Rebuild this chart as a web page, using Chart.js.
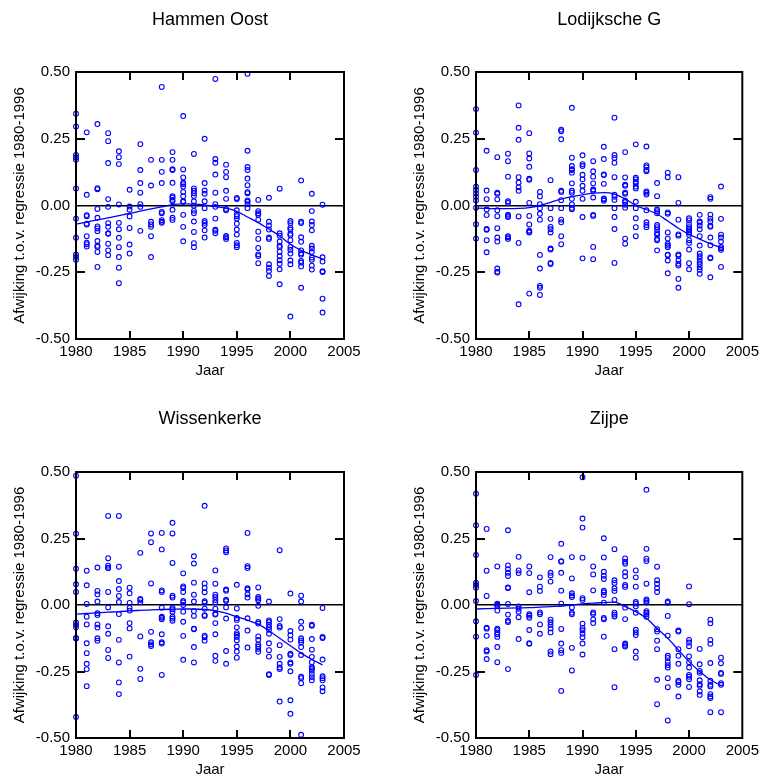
<!DOCTYPE html>
<html>
<head>
<meta charset="utf-8">
<script src="https://cdn.jsdelivr.net/npm/chart.js@4.4.1/dist/chart.umd.min.js"></script>
<style>
  body { margin: 0; background: #fff; }
  #wrap { position: relative; width: 763px; height: 780px; overflow: hidden; }
  .panel { position: absolute; }
</style>
</head>
<body>
<div id="wrap">
  <div class="panel" style="left:0;top:0;width:400px;height:390px"><canvas id="c1"></canvas></div>
  <div class="panel" style="left:400px;top:0;width:363px;height:390px"><canvas id="c2"></canvas></div>
  <div class="panel" style="left:0;top:390px;width:400px;height:390px"><canvas id="c3"></canvas></div>
  <div class="panel" style="left:400px;top:390px;width:363px;height:390px"><canvas id="c4"></canvas></div>
</div>
<script>
// afwijkingen per jaar (elke rij = één jaar, 1980 t/m 2003)
const years = [1980, 1981, 1982, 1983, 1984, 1985, 1986, 1987, 1988, 1989, 1990, 1991,
               1992, 1993, 1994, 1995, 1996, 1997, 1998, 1999, 2000, 2001, 2002, 2003];

const hammenOost = [
  [0.344, 0.296, 0.189, 0.18, 0.171, 0.064, -0.049, -0.121, -0.183, -0.193, -0.203],
  [0.274, 0.04, -0.036, -0.04, -0.068, -0.071, -0.115, -0.139, -0.145, -0.154],
  [0.305, 0.065, 0.061, -0.013, -0.046, -0.078, -0.086, -0.096, -0.133, -0.151, -0.155, -0.174, -0.23],
  [0.271, 0.241, 0.159, 0.024, -0.005, -0.066, -0.08, -0.104, -0.106, -0.143, -0.168, -0.186],
  [0.203, 0.181, 0.155, 0.004, -0.065, -0.089, -0.121, -0.156, -0.193, -0.233, -0.291],
  [0.059, -0.004, -0.016, -0.041, -0.084, -0.146, -0.18],
  [0.23, 0.133, 0.084, 0.048, 0.005, -0.005, -0.095],
  [0.171, 0.075, -0.061, -0.071, -0.08, -0.115, -0.193],
  [0.444, 0.171, 0.126, 0.084, -0.024, -0.029, -0.055, -0.061, -0.065],
  [0.2, 0.171, 0.136, 0.133, 0.085, 0.035, 0.03, 0.021, 0.016, -0.016, -0.046, -0.054],
  [0.335, 0.135, 0.105, 0.085, 0.08, 0.071, 0.051, 0.035, 0.016, 0.014, -0.035, -0.08, -0.134],
  [0.193, 0.064, 0.055, 0.046, 0.036, 0.016, -0.001, -0.02, -0.029, -0.06, -0.099, -0.141, -0.156],
  [0.25, 0.084, 0.056, 0.044, 0.016, -0.01, -0.058, -0.065, -0.073, -0.093, -0.12],
  [0.474, 0.174, 0.16, 0.116, 0.048, 0.005, -0.005, -0.049, -0.091, -0.095, -0.104],
  [0.153, 0.126, 0.106, 0.055, 0.025, -0.013, -0.018, -0.114, -0.119, -0.125],
  [0.028, 0.024, -0.018, -0.034, -0.04, -0.049, -0.068, -0.09, -0.109, -0.14, -0.149, -0.156],
  [0.493, 0.205, 0.144, 0.133, 0.101, 0.076, 0.05, 0.046, 0.019, 0.014, 0.005, -0.01],
  [0.021, -0.021, -0.029, -0.035, -0.053, -0.098, -0.125, -0.159, -0.183, -0.189, -0.216],
  [0.029, -0.061, -0.075, -0.09, -0.12, -0.125, -0.22, -0.233, -0.245, -0.264],
  [0.063, -0.104, -0.113, -0.135, -0.151, -0.156, -0.173, -0.19, -0.205, -0.218, -0.239, -0.295],
  [-0.058, -0.066, -0.083, -0.09, -0.106, -0.111, -0.13, -0.155, -0.166, -0.18, -0.206, -0.22, -0.416],
  [0.094, -0.061, -0.066, -0.119, -0.136, -0.168, -0.179, -0.184, -0.208, -0.214, -0.228, -0.308],
  [0.044, -0.021, -0.06, -0.073, -0.093, -0.151, -0.161, -0.174, -0.195, -0.203, -0.225, -0.24],
  [0.003, -0.194, -0.21, -0.246, -0.249, -0.349, -0.401]
];
const hammenOostTrend = [-0.07, -0.062, -0.054, -0.046, -0.038, -0.03, -0.021, -0.013, -0.005, 0.003, 0.006, 0.005,
  0.002, -0.004, -0.01, -0.022, -0.043, -0.064, -0.089, -0.114, -0.145, -0.168, -0.185, -0.2];

const lodijkscheG = [
  [0.361, 0.273, 0.133, 0.07, 0.058, 0.045, 0.033, 0.019, -0.008, -0.07, -0.124],
  [0.205, 0.056, 0.024, -0.015, -0.036, -0.088, -0.091, -0.13, -0.175],
  [0.181, 0.048, 0.044, 0.023, -0.018, -0.04, -0.085, -0.12, -0.135, -0.236, -0.248, -0.251],
  [0.194, 0.166, 0.108, 0.016, 0.01, -0.034, -0.039, -0.043, -0.115, -0.119, -0.125],
  [0.375, 0.291, 0.246, 0.106, 0.086, 0.068, 0.055, -0.041, -0.14, -0.37],
  [0.271, 0.195, 0.176, 0.145, 0.1, 0.096, 0.01, -0.039, -0.071, -0.094, -0.098, -0.101, -0.33],
  [0.051, 0.034, 0.005, -0.01, -0.031, -0.053, -0.185, -0.236, -0.301, -0.308, -0.335],
  [0.095, -0.01, -0.05, -0.08, -0.089, -0.101, -0.161, -0.165, -0.215, -0.219],
  [0.284, 0.278, 0.248, 0.055, 0.051, 0.02, -0.01, -0.053, -0.063, -0.115, -0.145],
  [0.366, 0.179, 0.148, 0.136, 0.133, 0.123, 0.083, 0.055, 0.048, 0.025, 0.004, -0.009, -0.014],
  [0.188, 0.155, 0.148, 0.115, 0.098, 0.074, 0.055, 0.025, -0.043, -0.198],
  [0.166, 0.128, 0.108, 0.083, 0.06, 0.055, 0.03, -0.035, -0.039, -0.155, -0.201],
  [0.22, 0.174, 0.116, 0.114, 0.081, 0.026, 0.023, 0.018],
  [0.329, 0.189, 0.178, 0.16, 0.106, 0.04, 0.033, 0.021, -0.01, -0.043, -0.088, -0.215],
  [0.2, 0.105, 0.078, 0.074, 0.048, 0.044, 0.018, 0.013, 0.003, -0.008, -0.124, -0.143],
  [0.229, 0.104, 0.098, 0.089, 0.083, 0.071, 0.064, 0.014, -0.01, -0.048, -0.081, -0.115],
  [0.221, 0.15, 0.143, 0.133, 0.128, 0.053, 0.048, 0.041, -0.018, -0.063, -0.073, -0.081],
  [0.084, 0.035, -0.015, -0.021, -0.029, -0.073, -0.081, -0.091, -0.104, -0.11, -0.125, -0.13, -0.168],
  [0.123, 0.106, -0.026, -0.031, -0.101, -0.124, -0.143, -0.15, -0.156, -0.184, -0.186, -0.206, -0.254],
  [0.106, 0.01, -0.053, -0.108, -0.113, -0.183, -0.188, -0.206, -0.218, -0.225, -0.275, -0.308],
  [-0.048, -0.056, -0.07, -0.081, -0.088, -0.093, -0.101, -0.11, -0.13, -0.14, -0.165, -0.216, -0.239],
  [-0.035, -0.06, -0.064, -0.075, -0.089, -0.115, -0.15, -0.18, -0.19, -0.2, -0.211, -0.22, -0.231, -0.241, -0.256],
  [0.031, 0.025, -0.034, -0.049, -0.059, -0.076, -0.08, -0.12, -0.149, -0.195, -0.198, -0.269],
  [0.071, -0.05, -0.109, -0.12, -0.135, -0.155, -0.16, -0.166, -0.23]
];
const lodijkscheGTrend = [-0.01, -0.011, -0.012, -0.012, -0.011, -0.008, 0.0, 0.012, 0.024, 0.033, 0.04, 0.046,
  0.048, 0.043, 0.025, 0.0, -0.015, -0.032, -0.058, -0.085, -0.108, -0.126, -0.143, -0.158];

const wissenkerke = [
  [0.486, 0.268, 0.136, 0.078, 0.049, -0.066, -0.075, -0.084, -0.124, -0.126, -0.421],
  [0.129, 0.074, 0.004, -0.044, -0.073, -0.144, -0.181, -0.221, -0.241, -0.305],
  [0.141, 0.053, 0.04, 0.013, -0.031, -0.038, -0.073, -0.085, -0.125, -0.134],
  [0.335, 0.176, 0.148, 0.14, 0.139, 0.049, -0.009, -0.08, -0.108, -0.169, -0.199],
  [0.335, 0.144, 0.09, 0.06, 0.034, 0.011, -0.034, -0.131, -0.216, -0.291, -0.335],
  [0.065, 0.044, 0.008, -0.011, -0.021, -0.068, -0.088, -0.194],
  [0.196, 0.023, 0.019, 0.01, -0.118, -0.24, -0.278],
  [0.269, 0.236, 0.081, -0.101, -0.14, -0.148, -0.154],
  [0.271, 0.209, 0.055, 0.049, -0.01, -0.044, -0.048, -0.054, -0.11, -0.14, -0.145, -0.263],
  [0.309, 0.269, 0.158, 0.035, 0.028, -0.01, -0.016, -0.025, -0.044, -0.051, -0.059],
  [0.119, 0.07, 0.064, 0.049, 0.015, 0.01, 0.0, -0.025, -0.063, -0.116, -0.206],
  [0.183, 0.156, 0.084, 0.039, 0.013, -0.023, -0.041, -0.089, -0.091, -0.158, -0.216],
  [0.373, 0.081, 0.065, 0.048, 0.014, 0.009, -0.014, -0.038, -0.041, -0.115, -0.121, -0.134],
  [0.13, 0.08, 0.039, 0.03, 0.019, 0.01, -0.014, -0.033, -0.036, -0.068, -0.11, -0.191, -0.21],
  [0.213, 0.205, 0.198, 0.058, 0.054, 0.02, 0.015, -0.009, -0.051, -0.173, -0.221],
  [0.076, -0.013, -0.049, -0.056, -0.084, -0.106, -0.113, -0.12, -0.133, -0.156, -0.175, -0.198],
  [0.271, 0.146, 0.139, 0.063, 0.058, 0.04, 0.028, -0.05, -0.096, -0.16],
  [0.066, 0.03, 0.024, 0.018, -0.003, -0.064, -0.07, -0.118, -0.131, -0.148, -0.156, -0.165, -0.176],
  [0.013, -0.058, -0.064, -0.074, -0.083, -0.093, -0.108, -0.144, -0.17, -0.194, -0.26, -0.263],
  [0.206, -0.053, -0.079, -0.085, -0.151, -0.195, -0.221, -0.235, -0.241, -0.363],
  [0.043, -0.098, -0.114, -0.13, -0.183, -0.188, -0.216, -0.221, -0.249, -0.358, -0.409],
  [0.035, 0.013, -0.063, -0.086, -0.125, -0.133, -0.141, -0.158, -0.188, -0.27, -0.275, -0.294, -0.488],
  [-0.074, -0.078, -0.128, -0.168, -0.195, -0.215, -0.233, -0.239, -0.246, -0.259, -0.271, -0.283],
  [-0.011, -0.12, -0.124, -0.205, -0.268, -0.275, -0.283, -0.31, -0.324]
];
const wissenkerkeTrend = [-0.034, -0.032, -0.029, -0.027, -0.025, -0.022, -0.02, -0.018, -0.017, -0.016, -0.015, -0.015,
  -0.017, -0.022, -0.031, -0.044, -0.057, -0.072, -0.097, -0.125, -0.153, -0.181, -0.205, -0.225];

const zijpe = [
  [0.418, 0.3, 0.188, 0.084, 0.075, 0.065, 0.015, -0.061, -0.119, -0.263],
  [0.286, 0.129, 0.034, -0.085, -0.089, -0.116, -0.17, -0.175, -0.203],
  [0.145, 0.005, 0.001, -0.004, -0.021, -0.089, -0.094, -0.103, -0.11, -0.12, -0.158, -0.215],
  [0.281, 0.149, 0.135, 0.121, 0.109, 0.066, 0.064, 0.004, -0.036, -0.059, -0.064, -0.241],
  [0.181, 0.13, 0.12, -0.005, -0.014, -0.025, -0.046, -0.128],
  [0.145, 0.12, 0.048, -0.035, -0.04, -0.048, -0.094, -0.144, -0.146],
  [0.104, 0.069, 0.053, -0.028, -0.035, -0.073, -0.108],
  [0.18, 0.121, 0.111, 0.088, -0.055, -0.065, -0.075, -0.088, -0.103, -0.175, -0.185],
  [0.23, 0.165, 0.163, 0.121, 0.054, 0.005, -0.09, -0.145, -0.17, -0.18, -0.323],
  [0.18, 0.1, 0.044, 0.036, 0.03, -0.009, -0.029, -0.035, -0.161, -0.246],
  [0.48, 0.325, 0.291, 0.178, 0.026, 0.019, -0.07, -0.086, -0.095, -0.108, -0.121, -0.145, -0.186],
  [0.145, 0.115, 0.055, -0.028, -0.034, -0.054, -0.068],
  [0.251, 0.179, 0.125, 0.11, 0.098, 0.054, 0.048, 0.038, 0.009, -0.049, -0.054, -0.119],
  [0.21, 0.093, 0.083, 0.063, 0.053, 0.019, -0.029, -0.036, -0.043, -0.166, -0.309],
  [0.175, 0.163, 0.155, 0.123, 0.108, 0.075, 0.068, -0.01, -0.053, -0.145, -0.15, -0.156],
  [0.13, 0.104, 0.069, 0.011, 0.005, -0.005, -0.029, -0.093, -0.103, -0.113, -0.175, -0.198],
  [0.433, 0.211, 0.174, 0.165, 0.08, 0.021, 0.015, 0.009, -0.023, -0.029, -0.035, -0.044],
  [0.144, 0.093, 0.08, 0.064, 0.049, -0.091, -0.1, -0.134, -0.166, -0.281, -0.373],
  [0.013, 0.008, -0.041, -0.115, -0.191, -0.199, -0.214, -0.226, -0.235, -0.275, -0.309, -0.434],
  [-0.096, -0.1, -0.166, -0.191, -0.221, -0.285, -0.29, -0.3, -0.344],
  [0.07, 0.003, -0.131, -0.141, -0.155, -0.193, -0.215, -0.235, -0.263, -0.27, -0.279, -0.308],
  [-0.165, -0.223, -0.248, -0.255, -0.283, -0.298, -0.304, -0.325, -0.338],
  [-0.055, -0.069, -0.131, -0.146, -0.218, -0.285, -0.3, -0.306, -0.335, -0.344, -0.35, -0.403],
  [-0.198, -0.219, -0.255, -0.259, -0.294, -0.3, -0.403]
];
const zijpeTrend = [-0.015, -0.014, -0.013, -0.012, -0.011, -0.01, -0.008, -0.006, -0.004, 0.0, 0.004, 0.007,
  0.009, 0.011, -0.006, -0.025, -0.05, -0.088, -0.125, -0.169, -0.213, -0.25, -0.281, -0.303];

const yTicks = [-0.5, -0.25, 0, 0.25, 0.5];
const xTicks = [1980, 1985, 1990, 1995, 2000, 2005];
const yTitle = 'Afwijking t.o.v. regressie 1980-1996';
const xTitle = 'Jaar';

const FONT = "'Liberation Sans', Arial, sans-serif";
const BLUE = 'rgb(0,0,255)';

// kader met naar binnen wijzende streepjes
const framePlugin = {
  id: 'frame',
  afterDraw(chart) {
    const { ctx, chartArea: a, scales: { x, y } } = chart;
    ctx.save();
    ctx.strokeStyle = '#000';
    ctx.lineWidth = 2;
    ctx.strokeRect(a.left, a.top, a.right - a.left, a.bottom - a.top);
    ctx.lineWidth = 2;
    ctx.beginPath();
    xTicks.slice(1, -1).forEach(v => {
      const px = Math.round(x.getPixelForValue(v));
      ctx.moveTo(px, a.top); ctx.lineTo(px, a.top + 8);
      ctx.moveTo(px, a.bottom); ctx.lineTo(px, a.bottom - 8);
    });
    [-0.25, 0.25].forEach(v => {
      const py = Math.round(y.getPixelForValue(v));
      ctx.moveTo(a.left, py); ctx.lineTo(a.left + 9, py);
      ctx.moveTo(a.right, py); ctx.lineTo(a.right - 9, py);
    });
    ctx.stroke();
    ctx.restore();
  }
};

function makePanel(id, title, values, trend, opt) {
  const pts = [];
  values.forEach((row, i) => row.forEach(v => pts.push({ x: years[i], y: v })));
  const line = trend.map((v, i) => ({ x: years[i], y: v }));

  new Chart(document.getElementById(id), {
    type: 'scatter',
    data: {
      datasets: [
        {
          data: pts,
          showLine: false,
          pointStyle: 'circle',
          pointRadius: 2.4,
          pointBorderWidth: 1.1,
          borderColor: BLUE,
          backgroundColor: 'rgba(0,0,0,0)',
          clip: false
        },
        {
          type: 'line',
          data: line,
          borderColor: BLUE,
          borderWidth: 1.3,
          pointRadius: 0,
          fill: false,
          cubicInterpolationMode: 'monotone'
        }
      ]
    },
    options: {
      responsive: true,
      maintainAspectRatio: false,
      animation: false,
      events: [],
      layout: { padding: { left: 0, right: opt.padRight, top: 0, bottom: 0 } },
      plugins: {
        legend: { display: false },
        tooltip: { enabled: false },
        title: {
          display: true,
          text: title,
          fullSize: false,
          color: '#000',
          font: { family: FONT, size: 18, weight: 'normal', lineHeight: 1.2 },
          padding: { top: opt.titleTop, bottom: opt.titleBottom }
        }
      },
      scales: {
        x: {
          type: 'linear',
          min: 1980,
          max: 2005,
          afterBuildTicks: s => { s.ticks = xTicks.map(v => ({ value: v })); },
          afterFit: s => { s.height = opt.xHeight; },
          grid: { display: false, drawTicks: false },
          border: { display: false },
          ticks: {
            color: '#000',
            padding: 4,
            maxRotation: 0,
            font: { family: FONT, size: 15 },
            callback: v => String(v)
          },
          title: {
            display: true,
            text: xTitle,
            color: '#000',
            font: { family: FONT, size: 15, lineHeight: 1.2 },
            padding: { top: 0, bottom: opt.xTitlePad }
          }
        },
        y: {
          type: 'linear',
          min: -0.5,
          max: 0.5,
          afterBuildTicks: s => { s.ticks = yTicks.map(v => ({ value: v })); },
          afterFit: s => { s.width = 76; },
          grid: {
            drawTicks: false,
            lineWidth: 1.5,
            color: c => (c.tick && c.tick.value === 0 ? '#000' : 'rgba(0,0,0,0)')
          },
          border: { display: false },
          ticks: {
            color: '#000',
            padding: 6,
            font: { family: FONT, size: 15 },
            callback: v => v.toFixed(2)
          },
          title: {
            display: true,
            text: yTitle,
            color: '#000',
            font: { family: FONT, size: 15, lineHeight: 1.2 },
            padding: { top: 11, bottom: 0 }
          }
        }
      }
    },
    plugins: [framePlugin]
  });
}

const topRow = { titleTop: 9, titleBottom: 41.4, xHeight: 51, xTitlePad: 10.5 };
const bottomRow = { titleTop: 18.2, titleBottom: 42.2, xHeight: 42, xTitlePad: 1 };

makePanel('c1', 'Hammen Oost', hammenOost, hammenOostTrend, { ...topRow, padRight: 56 });
makePanel('c2', 'Lodijksche G', lodijkscheG, lodijkscheGTrend, { ...topRow, padRight: 19 });
makePanel('c3', 'Wissenkerke', wissenkerke, wissenkerkeTrend, { ...bottomRow, padRight: 56 });
makePanel('c4', 'Zijpe', zijpe, zijpeTrend, { ...bottomRow, padRight: 19 });
</script>
</body>
</html>
